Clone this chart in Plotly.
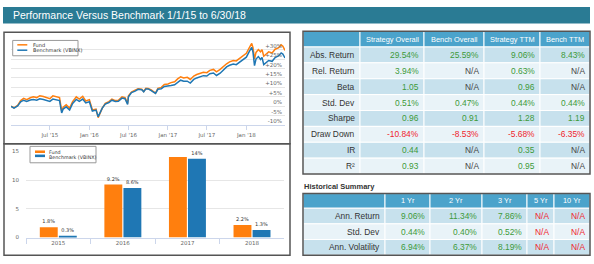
import plotly.graph_objects as go

W, H = 594, 264


def px(x):
    return x / W


def py(y):
    return 1 - y / H


# ---------------- data ----------------
title_text = "Performance Versus Benchmark 1/1/15 to 6/30/18"
series_names = ["Fund", "Benchmark (VBINX)"]
series_colors = ["#ff7f0e", "#1f77b4"]

dates = [
    "2015-01-01", "2015-01-15", "2015-02-01", "2015-02-15", "2015-03-01", "2015-03-15",
    "2015-04-01", "2015-04-15", "2015-05-01", "2015-05-15", "2015-06-01", "2015-06-15",
    "2015-07-01", "2015-07-15", "2015-08-01", "2015-08-15", "2015-08-25", "2015-09-01",
    "2015-09-15", "2015-10-01", "2015-10-15", "2015-11-01", "2015-11-15", "2015-12-01",
    "2015-12-15", "2016-01-01", "2016-01-15", "2016-02-01", "2016-02-11", "2016-02-20",
    "2016-03-01", "2016-03-15", "2016-04-01", "2016-04-15", "2016-05-01", "2016-05-15",
    "2016-06-01", "2016-06-15", "2016-06-27", "2016-07-01", "2016-07-15", "2016-08-01",
    "2016-08-15", "2016-09-01", "2016-09-10", "2016-09-20", "2016-10-01", "2016-10-15",
    "2016-11-04", "2016-11-15", "2016-12-01", "2016-12-15", "2017-01-01", "2017-01-15",
    "2017-02-01", "2017-02-15", "2017-03-01", "2017-03-15", "2017-04-01", "2017-04-15",
    "2017-05-01", "2017-05-15", "2017-06-01", "2017-06-15", "2017-07-01", "2017-07-15",
    "2017-08-01", "2017-08-15", "2017-09-01", "2017-09-15", "2017-10-01", "2017-10-15",
    "2017-11-01", "2017-11-15", "2017-12-01", "2017-12-15", "2018-01-01", "2018-01-15",
    "2018-01-26", "2018-02-01", "2018-02-08", "2018-02-15", "2018-02-26", "2018-03-08",
    "2018-03-15", "2018-03-23", "2018-04-01", "2018-04-15", "2018-05-01", "2018-05-15",
    "2018-06-01", "2018-06-12", "2018-06-20", "2018-06-30",
]
fund_cum = [
    0.0, -0.8, 0.5, 3.0, 4.2, 3.5,
    4.5, 5.0, 4.6, 5.6, 5.2, 4.5,
    4.0, 5.5, 5.0, 4.6, -2.5, -0.5,
    0.8, -1.0, 2.5, 5.0, 3.8, 5.2,
    2.8, 3.5, -2.0, -1.5, -6.0, -3.5,
    -1.0, 1.5, 2.5, 3.8, 3.0, 3.2,
    5.0, 4.6, 1.5, 5.5, 7.5, 8.5,
    9.3, 9.0, 7.8, 9.5, 9.4, 8.6,
    7.0, 9.5, 10.0, 11.5, 11.8, 12.5,
    13.0, 14.5, 15.6, 15.0, 15.3, 14.2,
    16.0, 16.8, 17.6, 18.0, 17.8, 19.0,
    19.5, 18.2, 19.5, 21.0, 22.5, 23.5,
    24.2, 24.0, 25.5, 26.5, 28.0, 31.0,
    33.3, 31.0, 25.0, 28.5, 30.0, 28.8,
    30.0, 26.5, 27.5, 28.8, 28.2, 30.2,
    31.0, 32.5, 31.8, 29.5,
]
bench_cum = [
    0.0, -1.0, 0.2, 2.3, 3.2, 2.5,
    3.3, 3.6, 3.2, 4.0, 3.6, 3.0,
    2.6, 3.8, 3.4, 3.0, -3.5, -1.5,
    -0.3, -2.0, 1.5, 3.6, 2.6, 3.8,
    1.8, 2.4, -2.5, -2.0, -5.5, -3.2,
    -1.0, 1.2, 2.0, 3.2, 2.5, 2.6,
    4.3, 4.0, 1.0, 5.0, 7.2, 8.0,
    9.0, 8.8, 7.7, 9.2, 9.2, 8.3,
    6.8, 9.0, 9.3, 10.5, 10.6, 11.0,
    11.4, 12.8, 13.8, 13.2, 13.3, 12.3,
    14.2, 15.0, 15.8, 16.2, 16.0, 17.2,
    17.6, 16.3, 17.5, 19.2, 20.8, 21.7,
    22.3, 22.0, 23.5, 24.5, 26.0, 29.0,
    31.2, 28.5, 21.5, 25.0, 26.3, 24.8,
    25.8, 22.0, 23.0, 24.2, 23.8, 25.8,
    26.8, 28.2, 27.6, 25.6,
]

line_ytick_vals = [-10, -5, 0, 5, 10, 15, 20, 25, 30, 35]
line_ytick_text = ["-10%", "-5%", "0%", "+5%", "+10%", "+15%", "+20%", "+25%", "+30%", ""]
line_xtick_vals = ["2015-07-01", "2016-01-01", "2016-07-01", "2017-01-01", "2017-07-01", "2018-01-01"]
line_xtick_text = ["Jul '15", "Jan '16", "Jul '16", "Jan '17", "Jul '17", "Jan '18"]

years = ["2015", "2016", "2017", "2018"]
fund_annual = [1.8, 9.2, 14.0, 2.2]
bench_annual = [0.3, 8.6, 13.7, 1.3]
fund_annual_labels = ["1.8%", "9.2%", "", "2.2%"]
bench_annual_labels = ["0.3%", "8.6%", "14%", "1.3%"]
bar_ytick_vals = [0, 5, 10, 15]
bar_ytick_text = ["0", "5", "10", "15"]

t1_header = ["", "Strategy Overall", "Bench Overall", "Strategy TTM", "Bench TTM"]
t1_rows = ["Abs. Return", "Rel. Return", "Beta", "Std. Dev", "Sharpe", "Draw Down", "IR", "R²"]
t1_strategy_overall = ["29.54%", "3.94%", "1.05", "0.51%", "0.96", "-10.84%", "0.44", "0.93"]
t1_bench_overall = ["25.59%", "N/A", "N/A", "0.47%", "0.91", "-8.53%", "N/A", "N/A"]
t1_strategy_ttm = ["9.06%", "0.63%", "0.96", "0.44%", "1.28", "-5.68%", "0.35", "0.95"]
t1_bench_ttm = ["8.43%", "N/A", "N/A", "0.44%", "1.19", "-6.35%", "N/A", "N/A"]

t2_title = "Historical Summary"
t2_header = ["", "1 Yr", "2 Yr", "3 Yr", "5 Yr", "10 Yr"]
t2_rows = ["Ann. Return", "Std. Dev", "Ann. Volatility"]
t2_1yr = ["9.06%", "0.44%", "6.94%"]
t2_2yr = ["11.34%", "0.40%", "6.37%"]
t2_3yr = ["7.86%", "0.52%", "8.19%"]
t2_5yr = ["N/A", "N/A", "N/A"]
t2_10yr = ["N/A", "N/A", "N/A"]

# ---------------- styles ----------------
TEAL = "#2a7b94"
HDR = "#4ba3cb"
ROW_A = "#c7e1ed"
ROW_B = "#e9f3f8"
GREEN = "#3d9a3a"
RED = "#f0242c"
DARK = "#444444"
BORDER = "#555555"
GRID = "#e6e6e6"
AXIS = "#ccd6eb"
TABFONT = "Liberation Sans, Arial, sans-serif"
CHFONT = "DejaVu Sans, sans-serif"

fig = go.Figure()

# ---- line chart ----
for name, ys, col in zip(series_names, [fund_cum, bench_cum], series_colors):
    fig.add_trace(go.Scatter(x=dates, y=ys, name=name, mode="lines",
                             line=dict(color=col, width=1.5), showlegend=False,
                             xaxis="x", yaxis="y"))

# ---- bar chart ----
for name, ys, labs, col in zip(series_names, [fund_annual, bench_annual],
                               [fund_annual_labels, bench_annual_labels], series_colors):
    fig.add_trace(go.Bar(x=years, y=ys, name=name, marker=dict(color=col, line=dict(width=0)),
                         text=labs, textposition="outside", cliponaxis=False,
                         textfont=dict(size=5, color="#333", family=CHFONT),
                         showlegend=False, xaxis="x2", yaxis="y2"))

shapes = []
annotations = []


def val_color(v, na_color):
    if v == "N/A":
        return na_color
    if v.startswith("-"):
        return RED
    return GREEN


def add_table(header, rows, cols, na_color, x0, y0, widths, hh, rh):
    """Build a table from the data lists: each cell a filled rect plus its text."""
    edges = [x0]
    for w in widths:
        edges.append(edges[-1] + w)
    columns = [rows] + cols
    for j, h in enumerate(header):
        shapes.append(dict(type="rect", xref="paper", yref="paper",
                           x0=px(edges[j]), x1=px(edges[j + 1]), y0=py(y0 + hh), y1=py(y0),
                           fillcolor=HDR, line=dict(color="white", width=1), layer="above"))
        if h:
            annotations.append(dict(text=h, xref="paper", yref="paper",
                                    x=px((edges[j] + edges[j + 1]) / 2), y=py(y0 + hh / 2),
                                    xanchor="center", yanchor="middle", showarrow=False,
                                    font=dict(color="white", size=7.4, family=TABFONT)))
    for i in range(len(rows)):
        top = y0 + hh + i * rh
        fill = ROW_A if i % 2 == 0 else ROW_B
        for j, col in enumerate(columns):
            shapes.append(dict(type="rect", xref="paper", yref="paper",
                               x0=px(edges[j]), x1=px(edges[j + 1]), y0=py(top + rh), y1=py(top),
                               fillcolor=fill, line=dict(color="white", width=1), layer="above"))
            v = col[i]
            color = "#333333" if j == 0 else val_color(v, na_color)
            annotations.append(dict(text=v, xref="paper", yref="paper",
                                    x=px(edges[j + 1] - 3), y=py(top + rh / 2),
                                    xanchor="right", yanchor="middle", showarrow=False,
                                    font=dict(color=color, size=8.4, family=TABFONT)))
    bottom = y0 + hh + len(rows) * rh
    shapes.append(dict(type="rect", xref="paper", yref="paper", x0=px(edges[0]), x1=px(edges[-1]),
                       y0=py(bottom), y1=py(y0), line=dict(color=BORDER, width=1.5), layer="above"))


add_table(t1_header, t1_rows, [t1_strategy_overall, t1_bench_overall, t1_strategy_ttm, t1_bench_ttm],
          DARK, 303, 29, [57, 64, 60, 56, 50], 16, 16.25)
add_table(t2_header, t2_rows, [t2_1yr, t2_2yr, t2_3yr, t2_5yr, t2_10yr],
          RED, 303, 195, [82, 45, 52, 45, 27, 36], 15, 16)

shapes += [
    dict(type="rect", xref="paper", yref="paper", x0=px(3), x1=px(590), y0=py(21), y1=py(4),
         fillcolor=TEAL, line=dict(width=0), layer="below"),
    dict(type="rect", xref="paper", yref="paper", x0=px(4), x1=px(290), y0=py(144), y1=py(30),
         line=dict(color=BORDER, width=1.5), layer="above"),
    dict(type="rect", xref="paper", yref="paper", x0=px(4), x1=px(290), y0=py(258), y1=py(144),
         line=dict(color=BORDER, width=1.5), layer="above"),
    # legend boxes
    dict(type="rect", xref="paper", yref="paper", x0=px(12.7), x1=px(78), y0=py(54), y1=py(38.3),
         fillcolor="white", line=dict(color="#999999", width=1), layer="above"),
    dict(type="rect", xref="paper", yref="paper", x0=px(30), x1=px(96), y0=py(163.5), y1=py(146.7),
         fillcolor="white", line=dict(color="#999999", width=1), layer="above"),
]
annotations += [
    dict(text=title_text, xref="paper", yref="paper", x=px(11), y=py(12.5), xanchor="left",
         yanchor="middle", showarrow=False, font=dict(color="white", size=10.5, family=TABFONT)),
    dict(text="<b>%s</b>" % t2_title, xref="paper", yref="paper", x=px(302), y=py(188),
         xanchor="left", yanchor="middle", showarrow=False,
         font=dict(color="#333333", size=7.5, family=TABFONT)),
]
# legend symbols and text
line_leg_y = [42.8, 48.3]
bar_leg_y = [152.2, 156.4]
bar_leg_text_y = [153.0, 158.3]
for i, (name, col) in enumerate(zip(series_names, series_colors)):
    shapes.append(dict(type="line", xref="paper", yref="paper", x0=px(17.3), x1=px(27.3),
                       y0=py(line_leg_y[i]), y1=py(line_leg_y[i]), line=dict(color=col, width=1.5),
                       layer="above"))
    annotations.append(dict(text=name, xref="paper", yref="paper", x=px(30.5), y=py(line_leg_y[i]),
                            xanchor="left", yanchor="middle", showarrow=False,
                            font=dict(size=5, color="#333333", family=CHFONT)))
    shapes.append(dict(type="rect", xref="paper", yref="paper", x0=px(35), x1=px(45),
                       y0=py(bar_leg_y[i] + 1.3), y1=py(bar_leg_y[i] - 1.3),
                       fillcolor=col, line=dict(width=0), layer="above"))
    annotations.append(dict(text=name, xref="paper", yref="paper", x=px(47.5), y=py(bar_leg_text_y[i]),
                            xanchor="left", yanchor="middle", showarrow=False, borderpad=0,
                            font=dict(size=4.8, color="#333333", family=CHFONT)))

tickfont = dict(size=5.5, color="#666666", family=CHFONT)
fig.update_layout(
    width=W, height=H, margin=dict(l=0, r=0, t=0, b=0, pad=0),
    paper_bgcolor="white", plot_bgcolor="white",
    shapes=shapes, annotations=annotations,
    bargap=0.41, bargroupgap=0.06, barmode="group",
    xaxis=dict(domain=[px(11), px(285)], range=["2015-01-01", "2018-06-30"], type="date",
               tickvals=line_xtick_vals, ticktext=line_xtick_text, showgrid=False,
               showline=True, linecolor=AXIS, linewidth=1, ticks="outside", ticklen=4,
               tickcolor=AXIS, tickfont=tickfont, anchor="y", zeroline=False),
    yaxis=dict(domain=[py(125), py(38)], range=[-10, 35], tickvals=line_ytick_vals,
               ticktext=line_ytick_text, side="right", ticklabelposition="inside top",
               showgrid=True, gridcolor=GRID, gridwidth=1, zeroline=False, showline=False,
               tickfont=tickfont, anchor="x"),
    xaxis2=dict(domain=[px(26), px(284.3)], type="category", showgrid=False, showline=True,
                linecolor=AXIS, linewidth=1, ticks="outside", tickson="boundaries", ticklen=5,
                tickcolor=AXIS, tickfont=tickfont, anchor="y2", zeroline=False),
    yaxis2=dict(domain=[py(240), py(151.7)], range=[0, 15], tickvals=bar_ytick_vals,
                ticktext=bar_ytick_text, showgrid=True, gridcolor=GRID, zeroline=False,
                showline=False, tickfont=tickfont, anchor="x2", ticklabelstandoff=6),
)

fig.write_html("out.html")
